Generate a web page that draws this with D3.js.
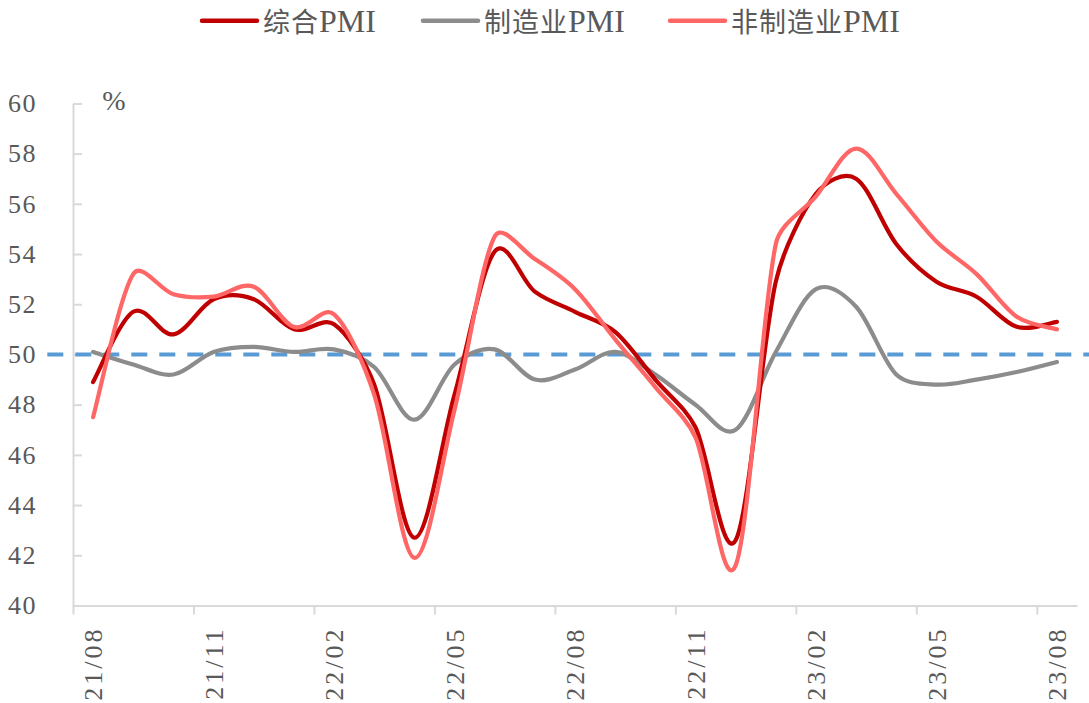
<!DOCTYPE html>
<html>
<head>
<meta charset="utf-8">
<script src="https://cdn.jsdelivr.net/npm/d3@7"></script>
<style>
  body { margin: 0; background: #ffffff; }
  svg { display: block; }
</style>
</head>
<body>
<svg id="chart" width="1089" height="703"></svg>
<script>
// Monthly categories, Aug 2021 – Aug 2023
const months = [
  "21/08", "21/09", "21/10", "21/11", "21/12",
  "22/01", "22/02", "22/03", "22/04", "22/05", "22/06", "22/07", "22/08", "22/09", "22/10", "22/11", "22/12",
  "23/01", "23/02", "23/03", "23/04", "23/05", "23/06", "23/07", "23/08"
];

// Composite PMI (%)
const compositePMI = [
  48.9, 51.7, 50.8, 52.2, 52.2,
  51.0, 51.2, 48.8, 42.7, 48.4, 54.1, 52.5, 51.7, 50.9, 49.0, 47.1, 42.6,
  52.9, 56.4, 57.0, 54.4, 52.9, 52.3, 51.1, 51.3
];

// Manufacturing PMI (%)
const manufacturingPMI = [
  50.1, 49.6, 49.2, 50.1, 50.3,
  50.1, 50.2, 49.5, 47.4, 49.6, 50.2, 49.0, 49.4, 50.1, 49.2, 48.0, 47.0,
  50.1, 52.6, 51.9, 49.2, 48.8, 49.0, 49.3, 49.7
];

// Non-manufacturing PMI (%)
const nonManufacturingPMI = [
  47.5, 53.2, 52.4, 52.3, 52.7,
  51.1, 51.6, 48.4, 41.9, 47.8, 54.7, 53.8, 52.6, 50.6, 48.7, 46.7, 41.6,
  54.4, 56.3, 58.2, 56.4, 54.5, 53.2, 51.5, 51.0
];

const seriesNames = ["综合PMI", "制造业PMI", "非制造业PMI"];
const seriesColors = ["#C00000", "#8C8C8C", "#FF6666"];

const yTicks = [40, 42, 44, 46, 48, 50, 52, 54, 56, 58, 60];
const xTickLabels = ["21/08", "21/11", "22/02", "22/05", "22/08", "22/11", "23/02", "23/05", "23/08"];
const thresholdValue = 50;
const unitLabel = "%";

// ---- layout ----
const svg = d3.select("#chart");
const plotLeft = 73, plotRight = 1077, plotTop = 103.4, plotBottom = 605.5;
const axisColor = "#D9D9D9";
const textColor = "#595959";
const latinFont = "'Liberation Serif', 'Times New Roman', serif";
const mixedFont = "'Liberation Serif', 'Noto Sans CJK SC', serif";

const x = d3.scaleBand().domain(months).range([plotLeft, plotRight]).paddingInner(0).paddingOuter(0);
const xEdge = d3.scaleLinear().domain([0, months.length]).range([plotLeft, plotRight]);
const y = d3.scaleLinear().domain([40, 60]).range([plotBottom, plotTop]);

// Smoothed line: Catmull-Rom style tangents, with each Bezier arm
// limited to a share of its own segment so short steps don't bulge.
function smoothCurve(context) {
  let pts = [];
  const armLimit = 0.35;
  return {
    areaStart() {}, areaEnd() {},
    lineStart() { pts = []; },
    point(px, py) { pts.push([+px, +py]); },
    lineEnd() {
      const n = pts.length;
      if (!n) return;
      context.moveTo(pts[0][0], pts[0][1]);
      if (n === 1) return;
      const tangent = i => {
        const a = pts[Math.max(i - 1, 0)], b = pts[Math.min(i + 1, n - 1)];
        return [(b[0] - a[0]) / 6, (b[1] - a[1]) / 6];
      };
      const clamp = (v, len) => {
        const m = Math.hypot(v[0], v[1]);
        const cap = armLimit * len;
        return m > cap && m > 0 ? [v[0] * cap / m, v[1] * cap / m] : v;
      };
      for (let i = 0; i < n - 1; i++) {
        const p0 = pts[i], p1 = pts[i + 1];
        const len = Math.hypot(p1[0] - p0[0], p1[1] - p0[1]);
        const t0 = clamp(tangent(i), len);
        const t1 = clamp(tangent(i + 1), len);
        context.bezierCurveTo(p0[0] + t0[0], p0[1] + t0[1], p1[0] - t1[0], p1[1] - t1[1], p1[0], p1[1]);
      }
    }
  };
}

// ---- y axis (inner ticks, labels on the left) ----
const yAxis = d3.axisLeft(y)
  .tickValues(yTicks)
  .tickFormat(d3.format("d"))
  .tickSizeInner(-9)
  .tickSizeOuter(0)
  .tickPadding(36);

const gy = svg.append("g").attr("transform", `translate(${plotLeft},0)`).call(yAxis);
gy.select(".domain").attr("stroke", axisColor).attr("stroke-width", 2);
gy.selectAll(".tick line").attr("stroke", axisColor).attr("stroke-width", 2)
  .filter(d => d === 40).remove();
gy.selectAll(".tick text")
  .attr("fill", textColor)
  .style("font-family", latinFont)
  .style("font-size", "26px")
  .style("letter-spacing", "1.5px");

// ---- x axis: boundary ticks every quarter ----
const xAxisTicks = d3.axisBottom(xEdge)
  .tickValues(d3.range(0, months.length, 3))
  .tickFormat("")
  .tickSizeInner(9)
  .tickSizeOuter(0);

const gx = svg.append("g").attr("transform", `translate(0,${plotBottom})`).call(xAxisTicks);
gx.select(".domain").attr("stroke", axisColor).attr("stroke-width", 2);
gx.selectAll(".tick line").attr("stroke", axisColor).attr("stroke-width", 2);

// ---- x axis labels: rotated, centred on their month ----
const xAxisLabels = d3.axisBottom(x)
  .tickValues(xTickLabels)
  .tickSize(0);

const gxl = svg.append("g").attr("transform", `translate(0,${plotBottom})`).call(xAxisLabels);
gxl.select(".domain").remove();
gxl.selectAll(".tick text")
  .attr("y", 0)
  .attr("x", -21)
  .attr("dy", "0.36em")
  .attr("transform", "rotate(-90)")
  .style("text-anchor", "end")
  .attr("fill", textColor)
  .style("font-family", latinFont)
  .style("font-size", "26px")
  .style("letter-spacing", "3px");

// ---- unit label ----
svg.append("text")
  .attr("x", 114)
  .attr("y", 110)
  .attr("text-anchor", "middle")
  .attr("fill", textColor)
  .style("font-family", latinFont)
  .style("font-size", "28px")
  .text(unitLabel);

// ---- 50 threshold (dashed) ----
svg.append("line")
  .attr("x1", 47.3)
  .attr("x2", 1089)
  .attr("y1", y(thresholdValue))
  .attr("y2", y(thresholdValue))
  .attr("stroke", "#5B9BD5")
  .attr("stroke-width", 4)
  .attr("stroke-dasharray", "16,12");

// ---- series lines ----
const seriesValues = [compositePMI, manufacturingPMI, nonManufacturingPMI];
const line = d3.line()
  .x((d, i) => x(months[i]) + x.bandwidth() / 2)
  .y(d => y(d))
  .curve(smoothCurve);

// draw manufacturing first, then composite, then non-manufacturing on top
const drawOrder = [1, 0, 2];
drawOrder.forEach(k => {
  svg.append("path")
    .datum(seriesValues[k])
    .attr("fill", "none")
    .attr("stroke", seriesColors[k])
    .attr("stroke-width", 4.2)
    .attr("stroke-linejoin", "round")
    .attr("stroke-linecap", "round")
    .attr("d", line);
});

// ---- legend ----
const legendX = [202, 423, 670];
const legendY = 20.7;
const legendBaseline = 31.5;
const legend = svg.append("g");
seriesNames.forEach((name, k) => {
  const g = legend.append("g").attr("transform", `translate(${legendX[k]},0)`);
  g.append("line")
    .attr("x1", 0).attr("x2", 55)
    .attr("y1", legendY).attr("y2", legendY)
    .attr("stroke", seriesColors[k])
    .attr("stroke-width", 4.5)
    .attr("stroke-linecap", "round");
  const t = g.append("text")
    .attr("x", 61)
    .attr("y", legendBaseline)
    .attr("fill", textColor)
    .style("font-family", mixedFont)
    .style("font-size", "27px");
  // CJK part and Latin part sized separately
  const parts = name.match(/[A-Za-z]+|[^A-Za-z]+/g);
  parts.forEach(p => {
    const latin = /^[A-Za-z]+$/.test(p);
    t.append("tspan")
      .style("font-size", latin ? "32px" : "27px")
      .style("letter-spacing", latin ? "0px" : "1px")
      .text(p);
  });
});
</script>
</body>
</html>
